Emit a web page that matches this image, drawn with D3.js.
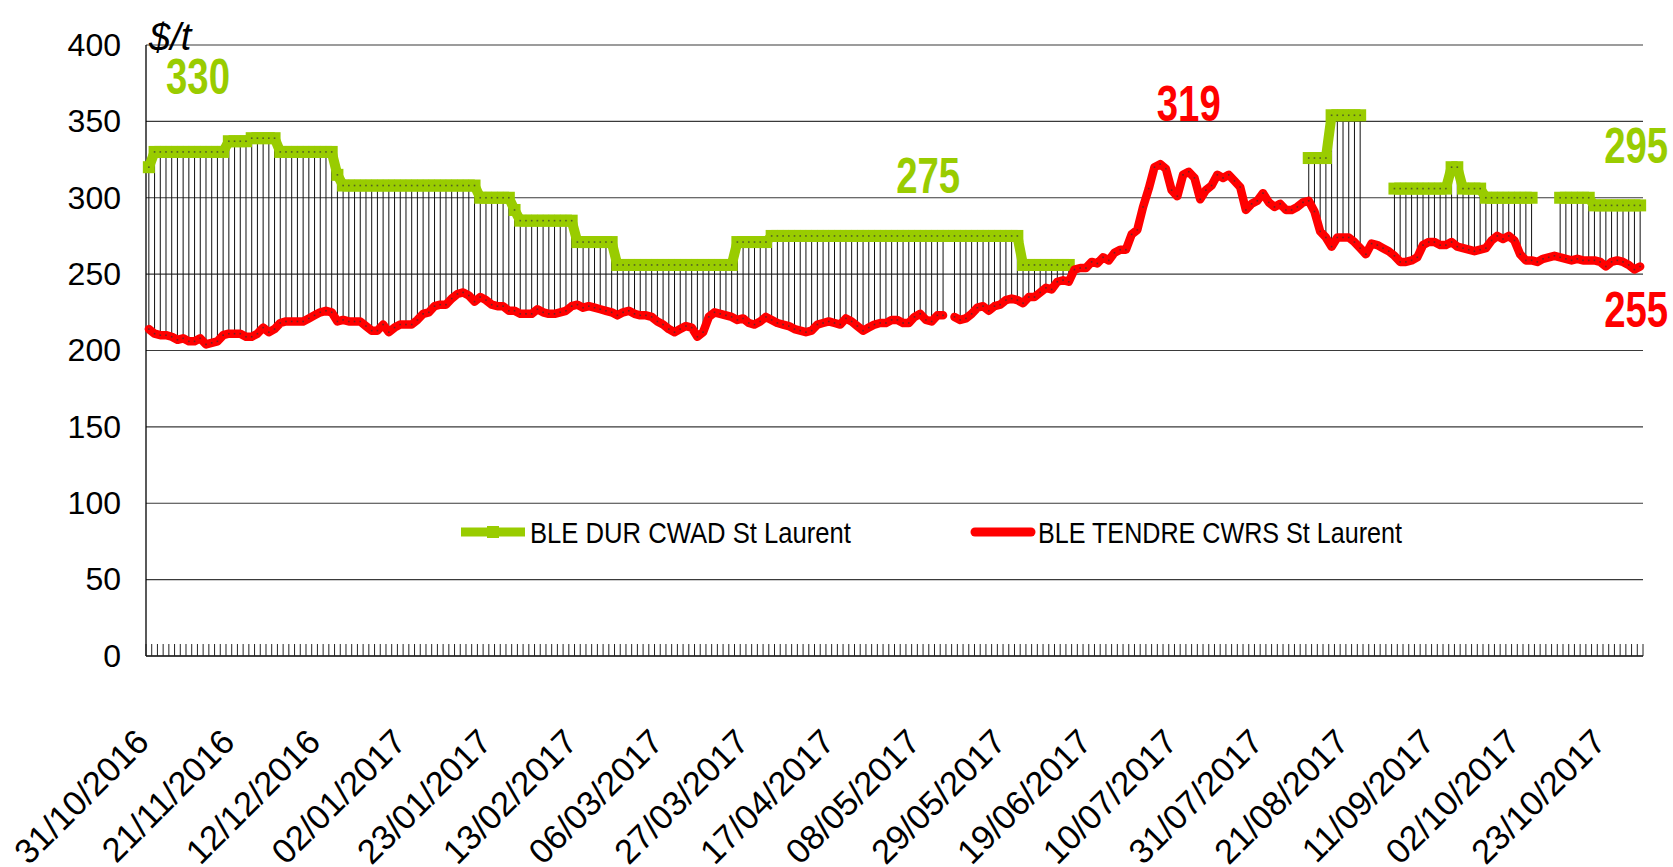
<!DOCTYPE html>
<html>
<head>
<meta charset="utf-8">
<script src="https://cdn.jsdelivr.net/npm/d3@7/dist/d3.min.js"></script>
<style>
  html, body { margin: 0; padding: 0; background: #fff; }
  svg { display: block; }
</style>
</head>
<body>
<svg id="chart" width="1673" height="867"></svg>
<script>
// ---- data (one value per business day, starting Monday 31/10/2016) ----
const firstDay = "2016-10-31";

// BLE DUR CWAD St Laurent ($/t), null = no quote
const durCwad = [
  320,330,330,330,330,330,330,330,330,330,330,330,330,330,337,
  337,337,337,339,339,339,339,339,330,330,330,330,330,330,330,
  330,330,330,315,308,308,308,308,308,308,308,308,308,308,308,
  308,308,308,308,308,308,308,308,308,308,308,308,308,300,300,
  300,300,300,300,292,285,285,285,285,285,285,285,285,285,285,
  271,271,271,271,271,271,271,256,256,256,256,256,256,256,256,
  256,256,256,256,256,256,256,256,256,256,256,256,256,271,271,
  271,271,271,271,275,275,275,275,275,275,275,275,275,275,275,
  275,275,275,275,275,275,275,275,275,275,275,275,275,275,275,
  275,275,275,275,275,275,275,275,275,275,275,275,275,275,275,
  275,275,275,256,256,256,256,256,256,256,256,256,null,null,null,
  null,null,null,null,null,null,null,null,null,null,null,null,null,null,null,
  null,null,null,null,null,null,null,null,null,null,null,null,null,null,null,
  null,null,null,null,null,null,null,null,326,326,326,326,354,354,354,
  354,354,354,null,null,null,null,null,306,306,306,306,306,306,306,
  306,306,306,320,320,306,306,306,306,300,300,300,300,300,300,
  300,300,300,null,null,null,null,300,300,300,300,300,300,295,295,
  295,295,295,295,295,295,295
];

// BLE TENDRE CWRS St Laurent ($/t)
const tendreCwrs = [
  214,211,210,210,209,207,208,206,206,208,204,205,206,210,211,
  211,211,209,209,211,215,212,214,218,219,219,219,219,221,223,
  225,226,225,219,220,219,219,219,216,213,213,217,212,215,217,
  217,217,220,224,225,229,230,230,234,237,238,236,232,235,233,
  230,229,229,226,226,224,224,224,227,225,224,224,225,226,229,
  230,228,229,228,227,226,225,223,225,226,224,223,223,222,219,
  217,214,212,214,216,215,209,212,222,225,224,223,222,220,221,
  218,217,219,222,220,218,217,216,214,213,212,213,217,218,219,
  218,217,221,219,216,213,215,217,218,218,220,220,218,218,222,
  224,220,219,223,223,null,222,220,221,224,228,229,226,229,230,
  233,234,233,231,235,235,238,241,240,245,246,245,253,254,254,
  258,257,261,259,264,266,266,276,279,294,306,320,322,319,305,
  301,315,317,313,299,305,308,315,313,315,311,307,292,296,298,
  303,297,294,296,292,292,294,297,298,291,278,274,268,274,274,
  274,271,267,263,270,269,267,265,262,258,258,259,261,269,271,
  271,269,269,271,268,267,266,265,266,267,272,275,273,275,272,
  263,259,259,258,260,261,262,261,260,259,260,259,259,259,258,
  255,258,259,258,256,253,255
];

const tickLabels = [
  "31/10/2016","21/11/2016","12/12/2016","02/01/2017","23/01/2017","13/02/2017",
  "06/03/2017","27/03/2017","17/04/2017","08/05/2017","29/05/2017","19/06/2017",
  "10/07/2017","31/07/2017","21/08/2017","11/09/2017","02/10/2017","23/10/2017"
];
const yTicks = [0, 50, 100, 150, 200, 250, 300, 350, 400];
const seriesNames = ["BLE DUR CWAD St Laurent", "BLE TENDRE CWRS St Laurent"];
const callouts = [
  { text: "330", series: 0, day: 8.6,   value: 368 },
  { text: "275", series: 0, day: 136.4, value: 303 },
  { text: "319", series: 1, day: 182,   value: 350 },
  { text: "295", series: 0, day: 260.3, value: 322.5 },
  { text: "255", series: 1, day: 260.3, value: 215.5 }
];

// ---- layout ----
const GREEN = "#99cc00", RED = "#ff0000";
const plotL = 146, plotR = 1643, plotT = 45, plotB = 656;
const svg = d3.select("#chart");

// business-day categories
const days = [];
for (let d = d3.timeParse("%Y-%m-%d")(firstDay); days.length < durCwad.length; d = d3.timeDay.offset(d, 1)) {
  if (d.getDay() !== 0 && d.getDay() !== 6) days.push(d);
}

const x = d3.scaleBand().domain(d3.range(days.length)).range([plotL, plotR]).padding(0);
const xc = i => x(i) + x.bandwidth() / 2;
const xf = v => plotL + x.bandwidth() * (v + 0.5);
const y = d3.scaleLinear().domain([0, 400]).range([plotB, plotT]);

// gridlines
svg.append("g").selectAll("line").data(yTicks.filter(t => t > 0)).join("line")
  .attr("x1", plotL).attr("x2", plotR)
  .attr("y1", d => y(d)).attr("y2", d => y(d))
  .attr("stroke", "#3a3a3a").attr("stroke-width", 1.2);

// y axis labels
const yAxis = svg.append("g").attr("transform", `translate(${plotL},0)`)
  .call(d3.axisLeft(y).tickValues(yTicks).tickSize(0).tickPadding(25));
yAxis.select(".domain").remove();
yAxis.selectAll("text")
  .attr("font-family", "'Liberation Sans', Arial, sans-serif")
  .attr("font-size", 32).attr("fill", "#000");

// axis lines
svg.append("line").attr("x1", plotL).attr("x2", plotL).attr("y1", plotT).attr("y2", plotB)
  .attr("stroke", "#000").attr("stroke-width", 1.3);
svg.append("line").attr("x1", plotL).attr("x2", plotR).attr("y1", plotB).attr("y2", plotB)
  .attr("stroke", "#000").attr("stroke-width", 1.3);

// category tick marks (inside, at every category boundary)
svg.append("g").selectAll("line").data(d3.range(days.length + 1)).join("line")
  .attr("x1", i => plotL + i * x.bandwidth()).attr("x2", i => plotL + i * x.bandwidth())
  .attr("y1", plotB).attr("y2", plotB - 12)
  .attr("stroke", "#222").attr("stroke-width", 1);

// date labels every 15 business days
svg.append("g").selectAll("text").data(tickLabels).join("text")
  .attr("transform", (d, k) => `translate(${xc(k * 15) + 2},${plotB + 88}) rotate(-45)`)
  .attr("text-anchor", "end")
  .attr("font-family", "'Liberation Sans', Arial, sans-serif")
  .attr("font-size", 34.5).attr("fill", "#000")
  .text(d => d);

// high-low lines
const pairs = d3.range(days.length).filter(i => durCwad[i] != null && tendreCwrs[i] != null);
svg.append("g").selectAll("line").data(pairs).join("line")
  .attr("x1", xc).attr("x2", xc)
  .attr("y1", i => y(durCwad[i])).attr("y2", i => y(tendreCwrs[i]))
  .attr("stroke", "#111").attr("stroke-width", 1);

// green series
const lineGen = arr => d3.line().defined(i => arr[i] != null).x(xc).y(i => y(arr[i]));
svg.append("path").datum(d3.range(days.length))
  .attr("d", lineGen(durCwad)).attr("fill", "none")
  .attr("stroke", GREEN).attr("stroke-width", 10).attr("stroke-linejoin", "miter");
svg.append("g").selectAll("rect").data(d3.range(days.length).filter(i => durCwad[i] != null)).join("rect")
  .attr("x", i => xc(i) - 6).attr("y", i => y(durCwad[i]) - 6)
  .attr("width", 12).attr("height", 12).attr("fill", GREEN);

// red series
svg.append("path").datum(d3.range(days.length))
  .attr("d", lineGen(tendreCwrs)).attr("fill", "none")
  .attr("stroke", RED).attr("stroke-width", 8.5)
  .attr("stroke-linejoin", "round").attr("stroke-linecap", "round");

// small point markers
[durCwad, tendreCwrs].forEach(arr => {
  svg.append("g").selectAll("rect").data(d3.range(days.length).filter(i => arr[i] != null)).join("rect")
    .attr("x", i => xc(i) - 0.8).attr("y", i => y(arr[i]) - 0.8)
    .attr("width", 1.6).attr("height", 1.6).attr("fill", "#333").attr("opacity", 0.7);
});

// unit
svg.append("text").attr("x", plotL + 3).attr("y", 50)
  .attr("font-family", "'Liberation Sans', Arial, sans-serif")
  .attr("font-style", "italic").attr("font-size", 38).attr("fill", "#000")
  .text("$/t");

// callouts (bold, condensed)
svg.append("g").selectAll("text").data(callouts).join("text")
  .attr("x", d => xf(d.day)).attr("y", d => y(d.value))
  .attr("text-anchor", "middle")
  .attr("font-family", "'Liberation Sans', Arial, sans-serif")
  .attr("font-weight", "bold").attr("font-size", 50)
  .attr("textLength", 64).attr("lengthAdjust", "spacingAndGlyphs")
  .attr("fill", d => d.series === 0 ? GREEN : RED)
  .text(d => d.text);

// legend
const legend = svg.append("g");
const lg = [
  { name: seriesNames[0], color: GREEN, x0: 461, x1: 525, tx: 530, tl: 321 },
  { name: seriesNames[1], color: RED, x0: 975, x1: 1031, tx: 1038, tl: 364 }
];
lg.forEach((d, k) => {
  legend.append("line").attr("x1", d.x0).attr("x2", d.x1).attr("y1", 532).attr("y2", 532)
    .attr("stroke", d.color).attr("stroke-width", 9)
    .attr("stroke-linecap", k === 0 ? "butt" : "round");
  if (k === 0) {
    legend.append("rect").attr("x", (d.x0 + d.x1) / 2 - 6).attr("y", 526)
      .attr("width", 12).attr("height", 12).attr("fill", d.color);
  }
  legend.append("text").attr("x", d.tx).attr("y", 543)
    .attr("font-family", "'Liberation Sans', Arial, sans-serif")
    .attr("font-size", 30).attr("fill", "#000")
    .attr("textLength", d.tl).attr("lengthAdjust", "spacingAndGlyphs")
    .text(d.name);
});
</script>
</body>
</html>
